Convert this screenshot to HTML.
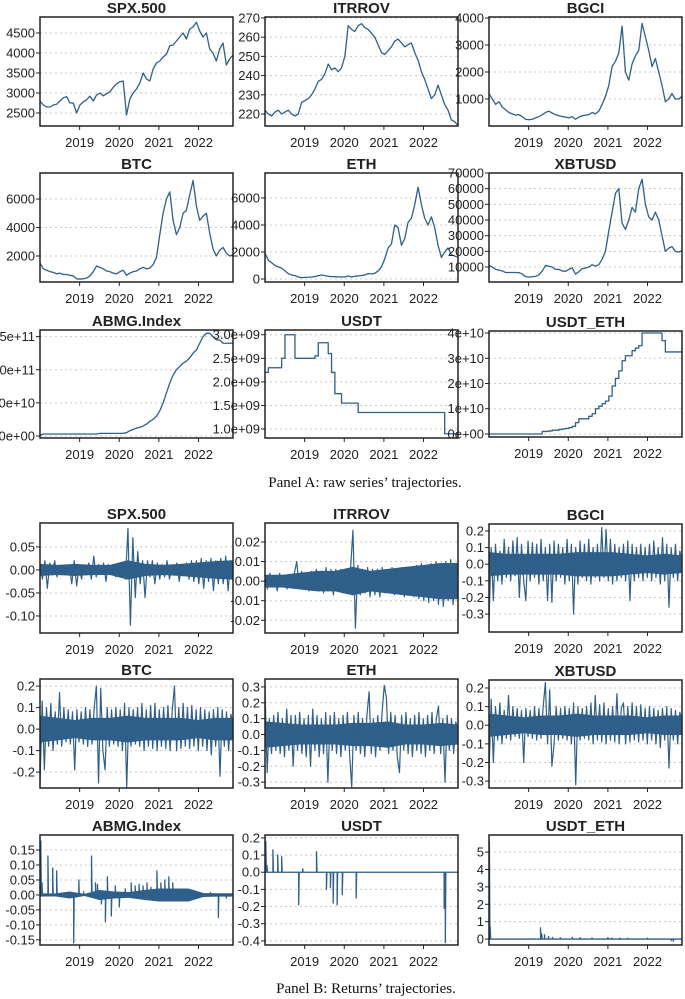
<!DOCTYPE html>
<html><head><meta charset="utf-8"><style>
html,body{margin:0;padding:0;background:#fff;}
svg{display:block;}
</style></head><body>
<svg id="fig" width="685" height="999" viewBox="0 0 685 999" xmlns="http://www.w3.org/2000/svg">
<text x="365" y="487" text-anchor="middle" font-family="Liberation Serif, serif" font-size="15" fill="#111">Panel A: raw series’ trajectories.</text>
<text x="366" y="993" text-anchor="middle" font-family="Liberation Serif, serif" font-size="15" fill="#111">Panel B: Returns’ trajectories.</text>
</svg>
<script>
// ---------- data: raw series (monthly samples, Jan 2018 - Nov 2022) ----------
const yearTicks = [2019, 2020, 2021, 2022];
const spxRaw = [2800,2700,2650,2650,2700,2720,2800,2880,2910,2750,2750,2500, 2700,2780,2830,2920,2800,2950,3000,2930,2980,3030,3140,3230, 3280,3300,2450,2850,3000,3100,3250,3500,3350,3300,3600,3750, 3800,3900,3970,4180,4200,4300,4400,4500,4350,4600,4650,4770, 4550,4400,4500,4100,4000,3800,4100,4250,3700,3850,3950];
const itrrovRaw = [222,220,219,221,222,220,221,222,220,219,220,226, 227,228,230,233,237,238,241,246,243,244,242,244, 250,266,264,263,266,267,265,264,262,260,256,252, 251,253,255,258,259,257,255,256,257,252,248,242, 238,233,228,230,235,230,225,222,217,216,214];
const bgciRaw = [1200,1000,800,900,700,600,500,450,400,420,350,250, 230,250,300,350,420,500,550,480,420,380,350,330, 300,350,250,330,380,400,420,500,450,550,800,1100, 1500,2200,2400,2700,3700,2000,1700,2300,2600,2800,3800,3300, 2800,2200,2500,2000,1500,900,1000,1200,1000,1000,1100];
const btcRaw = [1500,1100,1000,900,850,750,800,700,700,650,600,400, 380,400,450,600,900,1300,1200,1100,950,900,800,750, 900,1000,650,800,900,950,1100,1200,1100,1150,1400,1900, 3500,5000,6000,6500,4500,3500,4000,5000,5200,6300,7300,5500, 4500,4800,5000,3600,2500,2000,2400,2600,2200,2000,2100];
const ethRaw = [1900,1400,1200,1000,900,800,600,400,300,250,150,100, 120,130,150,180,250,300,250,200,180,170,160,150, 150,220,150,200,230,260,300,400,380,420,600,900, 1500,2300,2600,4000,3800,2500,3000,4200,4500,5500,6800,5500, 4500,4000,4600,3800,2500,1600,2000,2300,1800,1700,1600];
const xbtRaw = [11000,10000,8500,8000,7500,6500,6500,6500,6500,6400,5500,3800, 3600,3800,4000,5000,7500,11000,10500,10000,8500,8500,7500,7200, 8500,9500,5500,7000,9000,9300,10000,11500,10500,11500,15000,20000, 33000,45000,57000,60000,38000,34000,40000,48000,45000,60000,66000,50000, 42000,40000,45000,40000,30000,20000,22000,23000,20000,19500,20500];
const abmgRaw = [1e9,3e9,3e9,3e9,3e9,3e9,3e9,3e9,3e9,3e9,3e9,3e9, 3e9,3e9,3e9,3e9,3e9,3e9,4e9,4e9,4e9,4e9,4e9,4e9, 4e9,4e9,5e9,8e9,10e9,12e9,13e9,15e9,18e9,22e9,25e9,30e9, 38e9,50e9,65e9,80e9,92e9,100e9,105e9,110e9,113e9,118e9,125e9,130e9, 140e9,150e9,155e9,155e9,150e9,145e9,145e9,140e9,140e9,140e9,140e9];
const usdtRaw = [2.2e9,2.3e9,2.3e9,2.3e9,2.3e9,2.5e9,3.0e9,3.0e9,3.0e9,2.5e9,2.5e9,2.5e9, 2.5e9,2.5e9,2.5e9,2.55e9,2.83e9,2.83e9,2.83e9,2.6e9,2.2e9,1.75e9,1.75e9,1.55e9, 1.55e9,1.55e9,1.55e9,1.55e9,1.35e9,1.35e9,1.35e9,1.35e9,1.35e9,1.35e9,1.35e9,1.35e9, 1.35e9,1.35e9,1.35e9,1.35e9,1.35e9,1.35e9,1.35e9,1.35e9,1.35e9,1.35e9,1.35e9,1.35e9, 1.35e9,1.35e9,1.35e9,1.35e9,1.35e9,1.35e9,0.9e9,0.9e9,0.9e9,0.9e9,0.9e9];
const usdtEthRaw = [0,0,0,0,0,0,0,0,0,0,0,0, 0,0,0,0,0.1e10,0.1e10,0.12e10,0.15e10,0.15e10,0.18e10,0.2e10,0.22e10, 0.25e10,0.3e10,0.45e10,0.6e10,0.6e10,0.6e10,0.7e10,0.8e10,1.0e10,1.1e10,1.2e10,1.3e10, 1.5e10,1.9e10,2.2e10,2.5e10,2.9e10,3.1e10,3.1e10,3.3e10,3.4e10,3.5e10,4.0e10,4.0e10, 4.0e10,4.0e10,4.0e10,4.0e10,3.7e10,3.25e10,3.25e10,3.25e10,3.25e10,3.25e10,3.25e10];

// ---------- data: returns (evenly spaced samples) ----------
const spxRet = [0.01,-0.02,0.02,-0.04,0.015,-0.01,0.02,-0.015,0.01,-0.01,0.008,-0.01,0.01,-0.03,0.02,-0.035,0.01,-0.02,0.01,-0.01,0.015,-0.02,0.03,-0.015,0.012,-0.01,0.015,-0.025,0.012,-0.01,0.01,-0.015,0.01,-0.01,0.01,-0.02,0.09,-0.12,0.07,-0.06,0.04,-0.03,0.02,-0.06,0.02,-0.015,0.02,-0.03,0.015,-0.02,0.012,-0.015,0.02,-0.02,0.01,-0.01,0.015,-0.025,0.012,-0.012,0.015,-0.02,0.02,-0.025,0.02,-0.03,0.025,-0.04,0.02,-0.025,0.025,-0.045,0.02,-0.03,0.025,-0.03,0.03,-0.045,0.02,-0.025];
const itrrovRet = [0.003,-0.004,0.004,-0.003,0.003,-0.005,0.004,-0.003,0.003,-0.004,0.002,-0.003,0.004,0.01,-0.004,0.005,-0.003,0.004,-0.005,0.005,-0.004,0.006,-0.005,0.005,-0.006,0.007,-0.005,0.006,-0.007,0.006,-0.005,0.006,-0.006,0.005,-0.004,0.006,0.026,-0.024,0.008,-0.007,0.006,-0.006,0.007,-0.008,0.006,-0.007,0.006,-0.008,0.007,-0.006,0.005,-0.006,0.007,-0.007,0.006,-0.006,0.007,-0.008,0.006,-0.007,0.007,-0.008,0.008,-0.009,0.009,-0.01,0.008,-0.011,0.009,-0.01,0.01,-0.012,0.009,-0.013,0.01,-0.01,0.011,-0.012,0.009,-0.008];
const bgciRet = [-0.35,0.1,-0.22,0.12,-0.1,0.08,-0.12,0.15,-0.08,0.1,-0.1,0.14,-0.07,0.16,-0.2,0.12,-0.1,-0.22,0.14,-0.1,0.13,-0.08,0.12,-0.12,0.15,-0.1,0.1,-0.22,0.12,-0.23,0.14,-0.1,0.12,-0.08,0.1,-0.12,0.15,-0.1,0.12,-0.3,0.1,-0.12,0.14,-0.08,0.12,-0.1,0.15,-0.12,0.1,-0.08,0.12,-0.1,0.22,-0.08,0.21,-0.1,0.15,-0.12,0.12,-0.1,0.1,-0.08,0.12,-0.1,0.14,-0.22,0.12,-0.1,0.1,-0.08,0.12,-0.1,0.1,-0.08,0.12,-0.1,0.14,-0.08,0.1,-0.12,0.16,-0.1,0.12,-0.26,0.1,-0.08,0.12,-0.1,0.08,0.02];
const btcRet = [-0.26,0.13,-0.19,0.1,-0.08,0.12,-0.1,0.08,-0.07,0.17,-0.08,0.1,-0.06,0.09,-0.07,0.08,-0.19,0.09,-0.06,0.08,-0.07,0.1,-0.08,0.09,-0.07,0.1,0.2,-0.25,0.19,-0.1,-0.19,0.1,-0.08,0.09,-0.07,0.1,-0.08,0.09,-0.1,0.12,-0.27,0.1,-0.08,0.09,-0.07,0.1,-0.08,0.12,-0.1,0.09,-0.08,0.11,-0.09,0.12,-0.1,0.09,-0.08,0.1,-0.09,0.11,-0.1,0.09,0.2,-0.1,0.1,-0.09,0.12,-0.08,0.1,-0.09,0.11,-0.08,0.09,-0.1,0.1,-0.08,0.09,-0.1,0.08,-0.12,0.09,-0.08,0.1,-0.22,0.09,-0.08,0.08,-0.1,0.07,0.02];
const ethRet = [0.28,-0.24,0.1,-0.12,0.12,-0.1,0.14,-0.12,0.1,-0.14,0.16,-0.1,0.12,-0.2,0.12,-0.1,0.14,-0.12,0.1,-0.14,0.12,-0.2,0.16,-0.1,0.12,-0.14,0.1,-0.12,0.14,-0.3,0.12,-0.1,0.14,-0.12,0.1,-0.14,0.12,-0.1,0.14,-0.12,-0.33,0.12,-0.1,0.14,-0.12,0.1,-0.14,0.12,0.27,-0.12,0.1,-0.14,0.12,-0.1,0.14,0.31,0.23,-0.12,0.14,-0.1,0.12,-0.14,-0.24,0.12,-0.1,0.14,-0.12,0.1,-0.14,0.12,-0.1,0.14,-0.12,0.1,-0.14,0.12,-0.1,0.14,-0.12,0.1,0.18,-0.12,0.1,-0.3,0.12,-0.1,0.1,-0.12,0.08,0.02];
const xbtRet = [-0.26,0.14,-0.2,0.1,-0.08,0.12,-0.1,0.08,-0.07,0.16,-0.08,0.1,-0.06,0.09,-0.07,0.08,-0.2,0.09,-0.06,0.08,-0.07,0.1,-0.08,0.09,-0.07,0.1,0.23,-0.1,0.19,-0.22,-0.1,0.1,-0.08,0.09,-0.07,0.1,-0.08,0.09,-0.1,0.12,-0.32,0.1,-0.08,0.09,-0.07,0.1,-0.08,0.12,-0.1,0.16,-0.08,0.11,-0.09,0.12,-0.1,0.09,-0.08,0.1,-0.09,0.17,-0.1,0.09,0.12,-0.1,0.1,-0.09,0.12,-0.08,0.1,-0.09,0.11,-0.08,0.09,-0.1,0.1,-0.08,0.09,-0.1,0.08,-0.12,0.09,-0.08,0.1,-0.23,0.09,-0.08,0.08,-0.1,0.07,0.02];
// typical volatility band (half-width), evenly spaced over the period
const spxBand = [0.012,0.01,0.012,0.01,0.01,0.02,0.012,0.01,0.012,0.015,0.018,0.02];
const itrrovBand = [0.003,0.003,0.004,0.005,0.005,0.007,0.005,0.006,0.007,0.008,0.009,0.009];
const bgciBand = [0.07,0.06,0.06,0.06,0.06,0.07,0.07,0.07,0.06,0.05,0.06,0.05];
const btcBand = [0.06,0.05,0.04,0.05,0.05,0.06,0.05,0.05,0.05,0.04,0.05,0.05];
const ethBand = [0.08,0.07,0.06,0.06,0.06,0.07,0.07,0.08,0.06,0.06,0.07,0.06];
const xbtBand = [0.06,0.05,0.04,0.05,0.05,0.06,0.05,0.05,0.05,0.04,0.05,0.05];
// sparse return series: event years + values
const abmgRetYears = [2018.0,2018.02,2018.05,2018.2,2018.32,2018.42,2018.6,2018.85,2018.98,2019.1,2019.3,2019.4,2019.45,2019.55,2019.65,2019.7,2019.8,2019.9,2020.0,2020.15,2020.3,2020.4,2020.5,2020.6,2020.7,2020.8,2020.95,2021.05,2021.15,2021.25,2021.35,2021.5,2021.7,2022.0,2022.3,2022.5,2022.7,2022.87];
const abmgRetValues = [0.01,0.18,0.04,0.13,0.09,0.08,0.005,-0.16,0.05,0.01,0.13,0.04,0.035,-0.03,-0.09,0.06,-0.07,0.03,-0.04,0.02,0.04,0.03,0.035,0.03,0.04,0.025,0.08,0.04,0.05,0.06,0.04,0.015,0.01,-0.01,0.008,-0.075,-0.01,0.005];
const abmgBand = [0.004,0.003,0.01,0.002,0.015,0.01,0.008,0.015,0.02,0.02,0.02,0.005,0.004,0.004];
const usdtRetYears = [2018.0,2018.02,2018.05,2018.2,2018.32,2018.42,2018.85,2018.95,2019.3,2019.55,2019.65,2019.72,2019.82,2019.95,2020.3,2022.52,2022.55,2022.87];
const usdtRetValues = [0.03,0.18,0.04,0.13,0.1,0.09,-0.19,0.02,0.12,-0.1,-0.09,-0.18,-0.19,-0.13,-0.15,-0.21,-0.41,0];
const usdtEthRetYears = [2018.0,2018.01,2018.03,2019.3,2019.33,2019.4,2019.5,2019.6,2019.8,2020.1,2020.3,2020.6,2021.0,2021.1,2021.3,2021.5,2022.0,2022.6,2022.65,2022.87];
const usdtEthRetValues = [0,5.6,0.7,0.65,0.3,0.25,0.15,0.1,0.08,0.1,0.08,0.07,0.09,0.06,0.06,0.05,0.05,-0.08,-0.12,0];

// ---------- tick labels ----------
const spxTicks = [2500,3000,3500,4000,4500];
const itrrovTicks = [220,230,240,250,260,270];
const bgciTicks = [1000,2000,3000,4000];
const btcTicks = [2000,4000,6000];
const ethTicks = [0,2000,4000,6000];
const xbtTicks = [10000,20000,30000,40000,50000,60000,70000];
const abmgTicks = [0,5e10,1e11,1.5e11];
const abmgTickLabels = ["0.0e+00","5.0e+10","1.0e+11","1.5e+11"];
const usdtTicks = [1e9,1.5e9,2e9,2.5e9,3e9];
const usdtTickLabels = ["1.0e+09","1.5e+09","2.0e+09","2.5e+09","3.0e+09"];
const usdtEthTicks = [0,1e10,2e10,3e10,4e10];
const usdtEthTickLabels = ["0e+00","1e+10","2e+10","3e+10","4e+10"];
const spxRetTicks = [-0.10,-0.05,0,0.05];
const spxRetLabels = ["-0.10","-0.05","0.00","0.05"];
const itrrovRetTicks = [-0.02,-0.01,0,0.01,0.02];
const itrrovRetLabels = ["-0.02","-0.01","0.00","0.01","0.02"];
const ret3Ticks = [-0.3,-0.2,-0.1,0,0.1,0.2];
const ret3Labels = ["-0.3","-0.2","-0.1","0.0","0.1","0.2"];
const btcRetTicks = [-0.2,-0.1,0,0.1,0.2];
const btcRetLabels = ["-0.2","-0.1","0.0","0.1","0.2"];
const ethRetTicks = [-0.3,-0.2,-0.1,0,0.1,0.2,0.3];
const ethRetLabels = ["-0.3","-0.2","-0.1","0.0","0.1","0.2","0.3"];
const abmgRetTicks = [-0.15,-0.10,-0.05,0,0.05,0.10,0.15];
const abmgRetLabels = ["-0.15","-0.10","-0.05","0.00","0.05","0.10","0.15"];
const usdtRetTicks = [-0.4,-0.3,-0.2,-0.1,0,0.1,0.2];
const usdtRetLabels = ["-0.4","-0.3","-0.2","-0.1","0.0","0.1","0.2"];
const usdtEthRetTicks = [0,1,2,3,4,5];
const usdtEthRetLabels = ["0","1","2","3","4","5"];

// ---------- layout ----------
const NS = "http://www.w3.org/2000/svg";
const svg = document.getElementById("fig");
const colX = [40, 265, 489];
const W = 193;
const X0 = 2018.0, X1 = 2022.87;
const LINE = "#2f5f8a";

function mk(tag, attrs, parent) {
  const e = document.createElementNS(NS, tag);
  for (const k in attrs) e.setAttribute(k, attrs[k]);
  (parent || svg).appendChild(e);
  return e;
}

let clipId = 0;
function panel(p) {
  const left = colX[p.col], top = p.top, bottom = p.bottom;
  const g = mk("g", {});
  
  
  const xs = t => left + (t - X0) / (X1 - X0) * W;
  const ys = v => top + (p.yMax - v) / (p.yMax - p.yMin) * (bottom - top);
  p.ticks.forEach((v, i) => {
    const y = ys(v);
    const gl = mk("line", {x1: left, x2: left + W, y1: y, y2: y, stroke: "#c8c8c8", "stroke-width": 1, "stroke-dasharray": "2,3"}, g);
    
    
    const tk = mk("line", {x1: left - 4, x2: left, y1: y, y2: y, stroke: "#222", "stroke-width": 1}, g);
    
    
    const lb = mk("text", {x: left - 5, y: y + 4.5, "text-anchor": "end", "font-family": "Liberation Sans, sans-serif", "font-size": 13, fill: "#222"}, g);
    
    
    lb.textContent = p.labels ? p.labels[i] : String(v);
  });
  yearTicks.forEach(yr => {
    const x = xs(yr);
    const tk = mk("line", {x1: x, x2: x, y1: bottom, y2: bottom + 4, stroke: "#222", "stroke-width": 1}, g);
    
    
    const lb = mk("text", {x: x, y: bottom + 21, "text-anchor": "middle", "font-family": "Liberation Sans, sans-serif", "font-size": 13, fill: "#222"}, g);
    
    
    lb.textContent = String(yr);
  });
  const cid = "c" + (clipId++);
  const cp = mk("clipPath", {id: cid}, g);
  mk("rect", {x: left, y: top, width: W, height: bottom - top}, cp);
  // volatility band
  if (p.band) {
    const nb = p.band.length;
    const up = [], dn = [];
    p.band.forEach((b, i) => {
      const t = X0 + i / (nb - 1) * (X1 - X0);
      up.push(xs(t).toFixed(2) + "," + ys(b).toFixed(2));
      dn.unshift(xs(t).toFixed(2) + "," + ys(-b).toFixed(2));
    });
    const bd = mk("polygon", {points: up.concat(dn).join(" "), fill: LINE, stroke: LINE, "stroke-width": 1, "clip-path": "url(#" + cid + ")"}, g);
    
    
  }
  let pts = [];
  if (p.years) {
    p.years.forEach((t, i) => {
      pts.push([xs(t), ys(0)]);
      pts.push([xs(t), ys(p.values[i])]);
      pts.push([xs(t) + 0.5, ys(0)]);
    });
  } else {
    const n = p.values.length;
    p.values.forEach((v, i) => {
      const t = X0 + i / (n - 1) * (X1 - X0);
      if (p.step && i > 0) pts.push([xs(t), ys(p.values[i - 1])]);
      pts.push([xs(t), ys(v)]);
    });
  }
  const pl = mk("polyline", {points: pts.map(q => q[0].toFixed(2) + "," + q[1].toFixed(2)).join(" "), fill: "none", stroke: LINE, "stroke-width": p.sw || 1.3, "stroke-linejoin": "round", "clip-path": "url(#" + cid + ")"}, g);
  
  
  const bx = mk("rect", {x: left, y: top, width: W, height: bottom - top, fill: "none", stroke: "#222", "stroke-width": 1.5}, g);
  
  
  const tt = mk("text", {x: left + W / 2, y: top - 4, "text-anchor": "middle", "font-family": "Liberation Sans, sans-serif", "font-size": 15, "font-weight": "bold", fill: "#222"}, g);
  
  
  tt.textContent = p.title;
}

// Panel A
panel({name: "spx-raw", title: "SPX.500", col: 0, top: 17, bottom: 126, yMin: 2175, yMax: 4900, ticks: spxTicks, values: spxRaw});
panel({name: "itrrov-raw", title: "ITRROV", col: 1, top: 17, bottom: 126, yMin: 213.75, yMax: 270.5, ticks: itrrovTicks, values: itrrovRaw});
panel({name: "bgci-raw", title: "BGCI", col: 2, top: 17, bottom: 126, yMin: 0, yMax: 4037, ticks: bgciTicks, values: bgciRaw});
panel({name: "btc-raw", title: "BTC", col: 0, top: 173, bottom: 282, yMin: 175, yMax: 7825, ticks: btcTicks, values: btcRaw});
panel({name: "eth-raw", title: "ETH", col: 1, top: 173, bottom: 282, yMin: -222, yMax: 7850, ticks: ethTicks, values: ethRaw});
panel({name: "xbtusd-raw", title: "XBTUSD", col: 2, top: 173, bottom: 282, yMin: 430, yMax: 70000, ticks: xbtTicks, values: xbtRaw});
panel({name: "abmg-raw", title: "ABMG.Index", col: 0, top: 330, bottom: 438, yMin: -3e9, yMax: 1.6e11, ticks: abmgTicks, labels: abmgTickLabels, values: abmgRaw});
panel({name: "usdt-raw", title: "USDT", col: 1, top: 330, bottom: 438, yMin: 0.81e9, yMax: 3.1e9, ticks: usdtTicks, labels: usdtTickLabels, values: usdtRaw, step: true});
panel({name: "usdt-eth-raw", title: "USDT_ETH", col: 2, top: 331, bottom: 437, yMin: -0.12e10, yMax: 4.08e10, ticks: usdtEthTicks, labels: usdtEthTickLabels, values: usdtEthRaw, step: true});
// Panel B
panel({name: "spx-ret", title: "SPX.500", col: 0, top: 523, bottom: 633, yMin: -0.137, yMax: 0.102, ticks: spxRetTicks, labels: spxRetLabels, values: spxRet, band: spxBand, sw: 1.2});
panel({name: "itrrov-ret", title: "ITRROV", col: 1, top: 523, bottom: 633, yMin: -0.0265, yMax: 0.0297, ticks: itrrovRetTicks, labels: itrrovRetLabels, values: itrrovRet, band: itrrovBand, sw: 1.2});
panel({name: "bgci-ret", title: "BGCI", col: 2, top: 524, bottom: 632, yMin: -0.408, yMax: 0.242, ticks: ret3Ticks, labels: ret3Labels, values: bgciRet, band: bgciBand, sw: 1.2});
panel({name: "btc-ret", title: "BTC", col: 0, top: 679, bottom: 788, yMin: -0.274, yMax: 0.233, ticks: btcRetTicks, labels: btcRetLabels, values: btcRet, band: btcBand, sw: 1.2});
panel({name: "eth-ret", title: "ETH", col: 1, top: 679, bottom: 788, yMin: -0.337, yMax: 0.35, ticks: ethRetTicks, labels: ethRetLabels, values: ethRet, band: ethBand, sw: 1.2});
panel({name: "xbtusd-ret", title: "XBTUSD", col: 2, top: 680, bottom: 788, yMin: -0.337, yMax: 0.243, ticks: ret3Ticks, labels: ret3Labels, values: xbtRet, band: xbtBand, sw: 1.2});
panel({name: "abmg-ret", title: "ABMG.Index", col: 0, top: 835, bottom: 945, yMin: -0.167, yMax: 0.2, ticks: abmgRetTicks, labels: abmgRetLabels, years: abmgRetYears, values: abmgRetValues, band: abmgBand});
panel({name: "usdt-ret", title: "USDT", col: 1, top: 835, bottom: 945, yMin: -0.424, yMax: 0.217, ticks: usdtRetTicks, labels: usdtRetLabels, years: usdtRetYears, values: usdtRetValues});
panel({name: "usdt-eth-ret", title: "USDT_ETH", col: 2, top: 835, bottom: 945, yMin: -0.34, yMax: 5.98, ticks: usdtEthRetTicks, labels: usdtEthRetLabels, years: usdtEthRetYears, values: usdtEthRetValues});
</script>
</body></html>
